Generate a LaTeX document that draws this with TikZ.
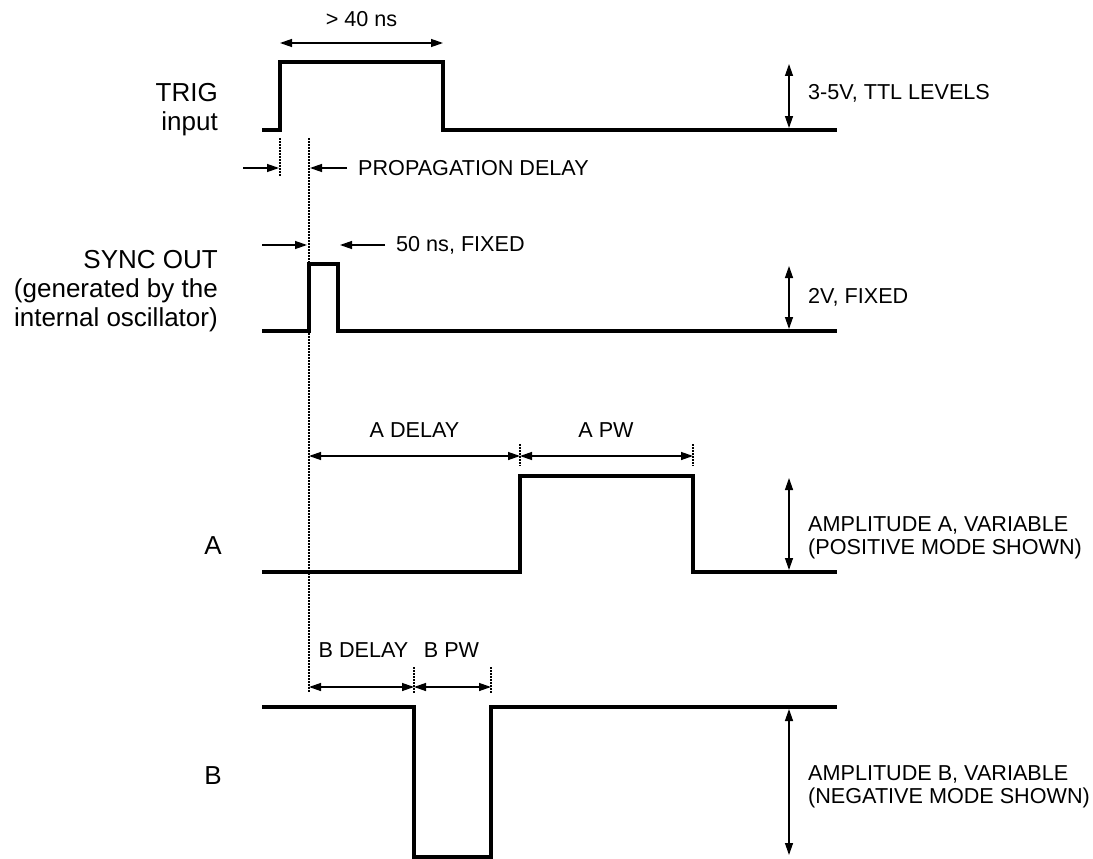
\documentclass[tikz,border=0pt]{standalone}
\usepackage{fontspec}
\setmainfont{Liberation Sans}
\usetikzlibrary{arrows.meta,calc}

\tikzset{
  signal/.style={line width=3.5pt},
  dimline/.style={line width=1.3pt,{Triangle[length=12pt,width=8pt]}-{Triangle[length=12pt,width=8pt]}},
  pointer/.style={line width=1.3pt,-{Triangle[length=12pt,width=8pt]}},
  guide/.style={line width=1.5pt,dash pattern=on 1.5pt off 1.5pt},
  smalltxt/.style={font=\fontsize{21.6}{22.8}\selectfont,inner sep=0pt,align=left},
  bigtxt/.style={font=\fontsize{26}{29}\selectfont,inner sep=0pt,align=right}
}

\begin{document}
\begin{tikzpicture}[x=1pt,y=-1pt]
\useasboundingbox (0,0) rectangle (1093,859);

% Signal names on the left.
\node[bigtxt,anchor=east] (trigname) at (218,110) {TRIG\\input};
\node[bigtxt,anchor=east] (syncname) at (218,291) {SYNC OUT\\(generated by the\\internal oscillator)};
\node[bigtxt,anchor=east] (aname) at (222,546) {A};
\node[bigtxt,anchor=east] (bname) at (222,776) {B};

% Time points.
\coordinate (t0) at (280,0);
\coordinate (t1) at (309,0);
\coordinate (t2) at (338,0);
\coordinate (t3) at (443,0);
\coordinate (t4) at (520,0);
\coordinate (t5) at (693,0);
\coordinate (t6) at (414,0);
\coordinate (t7) at (491,0);

% The four waveforms.
\draw[signal] (262,130) -- (t0|-0,130) -- (t0|-0,62) -- (t3|-0,62) -- (t3|-0,130) -- (837,130);
\draw[signal] (262,331) -- (t1|-0,331) -- (t1|-0,264) -- (t2|-0,264) -- (t2|-0,331) -- (837,331);
\draw[signal] (262,572) -- (t4|-0,572) -- (t4|-0,476) -- (t5|-0,476) -- (t5|-0,572) -- (837,572);
\draw[signal] (262,707) -- (t6|-0,707) -- (t6|-0,857) -- (t7|-0,857) -- (t7|-0,707) -- (837,707);

% Dotted guide lines.
\draw[guide] (t0|-0,138) -- (t0|-0,177);
\draw[guide] (t1|-0,138) -- (t1|-0,692);
\draw[guide] (t4|-0,444) -- (t4|-0,466);
\draw[guide] (t5|-0,444) -- (t5|-0,466);
\draw[guide] (t6|-0,667) -- (t6|-0,693);
\draw[guide] (t7|-0,667) -- (t7|-0,693);

% Trigger width.
\draw[dimline] (t0|-0,43) -- (t3|-0,43);
\node[smalltxt] (trigw) at (361.5,19) {> 40 ns};

% Propagation delay.
\coordinate (pd1) at (243,168);
\coordinate (pd2) at (347,168);
\draw[pointer] (pd1) -- (279,168);
\draw[pointer] (pd2) -- (310,168);
\node[smalltxt,anchor=west] (pdtxt) at (358,168) {PROPAGATION DELAY};

% Sync pulse width.
\coordinate (sw1) at (262,245);
\coordinate (sw2) at (385,245);
\draw[pointer] (sw1) -- (307,245);
\draw[pointer] (sw2) -- (340,245);
\node[smalltxt,anchor=west] (swtxt) at (396,245) {50 ns, FIXED};

% Delays and pulse widths of A and B.
\draw[dimline] (t1|-0,456) -- (t4|-0,456);
\draw[dimline] (t4|-0,456) -- (t5|-0,456);
\node[smalltxt] (adelay) at (414.5,430) {A DELAY};
\node[smalltxt] (apw) at (606,430) {A PW};
\draw[dimline] (t1|-0,687) -- (t6|-0,687);
\draw[dimline] (t6|-0,687) -- (t7|-0,687);
\node[smalltxt] (bdelay) at (363.5,650) {B DELAY};
\node[smalltxt] (bpw) at (451.5,650) {B PW};

% Amplitudes on the right.
\draw[dimline] (789,64) -- (789,128);
\node[smalltxt,anchor=west] (ttl) at (808,93) {3-5V, TTL LEVELS};
\draw[dimline] (789,266) -- (789,329);
\node[smalltxt,anchor=west] (syncamp) at (808,297) {2V, FIXED};
\draw[dimline] (789,478) -- (789,570);
\node[smalltxt,anchor=west] (aamp) at (808,537.5) {AMPLITUDE A, VARIABLE\\(POSITIVE MODE SHOWN)};
\draw[dimline] (789,709) -- (789,855);
\node[smalltxt,anchor=west] (bamp) at (808,787) {AMPLITUDE B, VARIABLE\\(NEGATIVE MODE SHOWN)};

\end{tikzpicture}
\end{document}
